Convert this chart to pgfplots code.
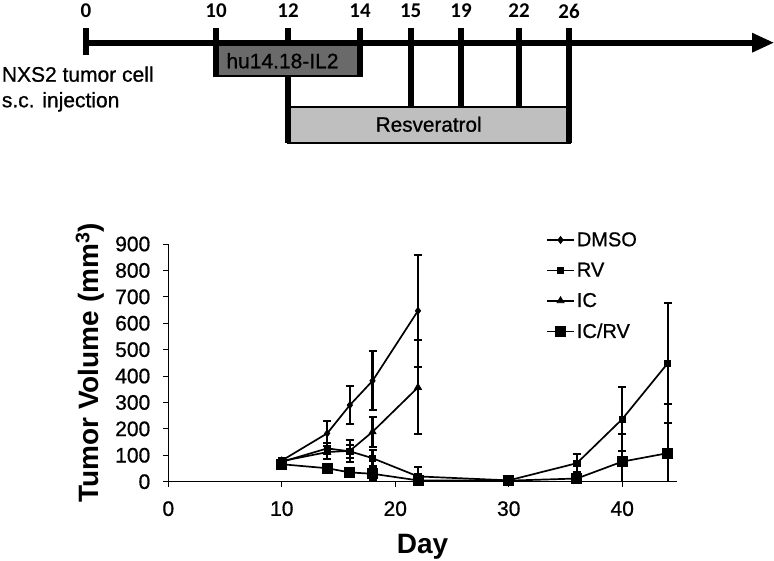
\documentclass[border=0pt]{standalone}
\usepackage{fontspec}
\setmainfont{Liberation Sans}
\newfontfamily\rgfont{Liberation Sans}[FakeBold=0.8]
\newfontfamily\carlito{Carlito}
\usepackage{pgfplots}
\pgfplotsset{compat=1.18}
\definecolor{darkbox}{HTML}{6A6A6A}
\definecolor{lightbox}{HTML}{BFBFBF}
\pgfplotsset{
  ebar/.style={black, line width=1.7pt, mark options={solid, line width=0.8pt},
    error bars/.cd, y dir=both, y explicit,
    error bar style={line width=2.2pt},
    error mark options={rotate=90, mark size=4pt, line width=2pt}},
}
\begin{document}
\begin{tikzpicture}[x=1pt,y=1pt]
\useasboundingbox (0,0) rectangle (774,561);
% ---------- timeline ----------
\filldraw[fill=lightbox, draw=black, line width=2pt] (288,454) rectangle (570,418);
\draw[line width=6pt] (288,533) -- (288,418);
\fill[darkbox] (216,518.3) rectangle (362,484);
\draw[line width=2.5pt] (216,485.2) -- (362,485.2);
\draw[line width=6pt] (86,533) -- (86,506);
\draw[line width=6pt] (216,533) -- (216,484);
\draw[line width=6pt] (360,533) -- (360,484);
\draw[line width=6pt] (410.7,533) -- (410.7,454);
\draw[line width=6pt] (461,533) -- (461,454);
\draw[line width=6pt] (519,533) -- (519,454);
\draw[line width=6pt] (569,533) -- (569,418);
\draw[line width=6pt] (86,518.3) -- (756,518.3);
\fill (752,528.3) -- (773.5,518.3) -- (752,508.3) -- cycle;
\begin{scope}[every node/.style={font=\carlito\bfseries\fontsize{21}{21}\selectfont, inner sep=0pt}]
\node at (86,550) {0};
\node at (216,550) {10};
\node at (288,550) {12};
\node at (360,550) {14};
\node at (410.7,550) {15};
\node at (461,550) {19};
\node at (519,550) {22};
\node at (569,550) {26};
\end{scope}
\node[anchor=base, inner sep=0pt, font=\rgfont\fontsize{21}{21}\selectfont] at (282.5,492.7) {hu14.18-IL2};
\node[anchor=base, inner sep=0pt, font=\rgfont\fontsize{20.7}{21}\selectfont] at (428.7,429.3) {Resveratrol};
\node[anchor=base west, inner sep=0pt, font=\rgfont\fontsize{21}{21}\selectfont] at (1.7,479.3) {NXS2 tumor cell};
\node[anchor=base west, inner sep=0pt, font=\rgfont\fontsize{21}{21}\selectfont] at (1.7,453.7) {s.c. injection};
% ---------- chart ----------
\begin{axis}[
  at={(168.3pt,79.3pt)}, anchor=south west,
  scale only axis, width=508.4pt, height=237.7pt,
  xmin=0, xmax=44.8, ymin=0, ymax=900,
  axis x line=bottom, axis y line=left,
  axis line style={-, line width=1pt, black},
  xtick={0,10,20,30,40}, ytick={0,100,...,900},
  tick align=outside, major tick length=5pt,
  tick style={line width=1pt, black},
  /pgf/number format/assume math mode=true,
  tick label style={font=\rgfont\fontsize{21}{21}\selectfont},
  yticklabel style={xshift=-9.5pt},
  xticklabel style={yshift=-11pt},
  xlabel={Day}, ylabel={Tumor Volume (mm\textsuperscript{3})},
  xlabel style={font=\bfseries\fontsize{28}{28}\selectfont, at={(rel axis cs:0.5,-0.30)}, anchor=base, inner sep=0pt},
  ylabel style={font=\bfseries\fontsize{28}{28}\selectfont, at={(rel axis cs:-0.1377,0.5)}, anchor=base, inner sep=0pt},
  clip mode=individual,
  legend cell align=left,
  legend style={draw=none, fill=none, at={(rel axis cs:0.737,1.067)}, anchor=north west,
    font=\rgfont\fontsize{20}{20}\selectfont, row sep=11pt,
    /tikz/every even column/.append style={column sep=3pt}},
  legend image code/.code={\draw[mark repeat=2,mark phase=2,#1] plot coordinates {(0pt,0pt) (13.5pt,0pt) (27pt,0pt)};},
]
\addplot[mark=diamond*, mark size=3.5pt, ebar] table[x=x, y=y, y error=e] {
x y e
10 80 10
14 183 48
16 290 72
18 382 112
22 647 211
};
\addlegendentry{DMSO}
\addplot[mark=square*, mark size=3.2pt, ebar] table[x=x, y=y, y error=e] {
x y e
10 75 8
14 126 20
16 115 25
18 89 30
22 20 35
30 5 3
36 70 35
40 237 120
44 448 227
};
\addlegendentry{RV}
\addplot[mark=triangle*, mark size=4pt, ebar] table[x=x, y=y, y error=e] {
x y e
10 78 8
14 112 25
16 117 41
18 189 56
22 357 178
};
\addlegendentry{IC}
\addplot[mark=square*, mark size=5pt, ebar] table[x=x, y=y, y error=e] {
x y e
10 66 8
14 51 15
16 35 18
18 30 22
22 5 8
30 4 3
36 12 8
40 76 104
44 108 185
};
\addlegendentry{IC/RV}
\end{axis}
\end{tikzpicture}
\end{document}
